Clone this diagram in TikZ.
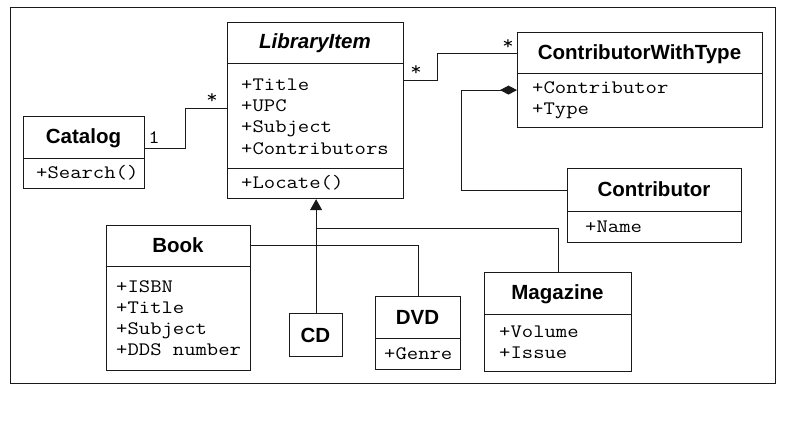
\documentclass[tikz,border=0pt]{standalone}
\usepackage{fontspec}
\setmainfont{Liberation Sans}
\newfontfamily\courfont[FakeStretch=1.16]{Latin Modern Mono}
\usetikzlibrary{arrows.meta}
\definecolor{ink}{HTML}{1A1A1A}
\begin{document}
\begin{tikzpicture}[x=1pt,y=-1pt,
  cell/.style={draw=ink, line width=1.2pt, inner sep=0pt, anchor=north west},
  hd/.style={anchor=base, inner sep=0pt, text=black, font=\fontsize{20.5}{24}\selectfont\bfseries},
  hdi/.style={hd, font=\fontsize{20.5}{24}\selectfont\bfseries\itshape},
  attr/.style={anchor=base west, inner sep=0pt, text=black, font=\fontsize{19}{21}\selectfont\courfont},
  lbl/.style={anchor=base, inner sep=0pt, text=black, font=\fontsize{19}{21}\selectfont\courfont},
  conn/.style={draw=ink, line width=1.1pt},
  frame/.style={draw=ink, line width=1pt}]
\useasboundingbox (0,0) rectangle (806,433);
\draw[frame] (10.5,7.5) rectangle (775.5,383.5);

% Catalog
\node[cell, minimum width=121pt, minimum height=42pt] (cath) at (23,116) {};
\node[cell, minimum width=121pt, minimum height=30pt] (cata) at (23,158) {};
\node[hd] (catt) at (83.5,144) {Catalog};
\node[attr] (cat1) at (36,178.5) {+Search()};

% LibraryItem
\node[cell, minimum width=176pt, minimum height=41pt] (lih) at (227,22) {};
\node[cell, minimum width=176pt, minimum height=105pt] (lia) at (227,63) {};
\node[cell, minimum width=176pt, minimum height=30pt] (lio) at (227,168) {};
\node[hdi] (lit) at (315,49) {LibraryItem};
\foreach \t [count=\i] in {+Title,+UPC,+Subject,+Contributors}
  \node[attr] (li-\i) at (241,70+21*\i) {\t};
\node[attr] (lio1) at (241,188.5) {+Locate()};

% ContributorWithType
\node[cell, minimum width=245pt, minimum height=41pt] (cwth) at (517,32) {};
\node[cell, minimum width=245pt, minimum height=54pt] (cwta) at (517,73) {};
\node[hd] (cwtt) at (639.5,59.5) {ContributorWithType};
\node[attr] (cwt1) at (532,94) {+Contributor};
\node[attr] (cwt2) at (532,115) {+Type};

% Contributor
\node[cell, minimum width=174pt, minimum height=43pt] (conh) at (567,168) {};
\node[cell, minimum width=174pt, minimum height=31pt] (cona) at (567,211) {};
\node[hd] (cont) at (654,196.5) {Contributor};
\node[attr] (con1) at (585,232) {+Name};

% Book
\node[cell, minimum width=144pt, minimum height=41pt] (bookh) at (106,224.5) {};
\node[cell, minimum width=144pt, minimum height=104.5pt] (booka) at (106,265.5) {};
\node[hd] (bookt) at (178,252) {Book};
\foreach \t [count=\i] in {+ISBN,+Title,+Subject,+DDS number}
  \node[attr] (book-\i) at (116,271+21*\i) {\t};

% CD
\node[cell, minimum width=53pt, minimum height=43pt] (cd) at (289,313) {};
\node[hd] (cdt) at (315.5,342) {CD};

% DVD
\node[cell, minimum width=85pt, minimum height=42pt] (dvdh) at (375,296) {};
\node[cell, minimum width=85pt, minimum height=31pt] (dvda) at (375,338) {};
\node[hd] (dvdt) at (417.5,324) {DVD};
\node[attr] (dvd1) at (384,359) {+Genre};

% Magazine
\node[cell, minimum width=147pt, minimum height=42pt] (magh) at (484,272) {};
\node[cell, minimum width=147pt, minimum height=57pt] (maga) at (484,314) {};
\node[hd] (magt) at (557.5,299.5) {Magazine};
\node[attr] (mag1) at (499,337.5) {+Volume};
\node[attr] (mag2) at (499,358.5) {+Issue};

% Connectors
\draw[conn] ([yshift=-10.5pt]cath.east) -- ++(40.5,0) |- ([yshift=8pt]lia.west);
\node[lbl] (m1) at (154,144) {1};
\node[lbl] (m2) at (212,104) {*};

\draw[conn] ([yshift=36pt]lia.east) -- ++(33.5,0) |- (cwth.west);
\node[lbl] (m3) at (416,76) {*};
\node[lbl] (m4) at (508,50) {*};

\draw[conn, -{Diamond[length=17pt,width=9pt]}] (conh.west) -- ++(-105.5,0) |- ([yshift=10.5pt]cwta.west);

\draw[conn, -{Triangle[length=11pt,width=12pt]}] (cd.north) -- (cd.north |- lio.south);
\coordinate (j1) at (315.5,228.5);
\draw[conn] (j1) -| (magh.north);
\draw[conn] (bookh.east) -| (dvdh.north);
\end{tikzpicture}
\end{document}
